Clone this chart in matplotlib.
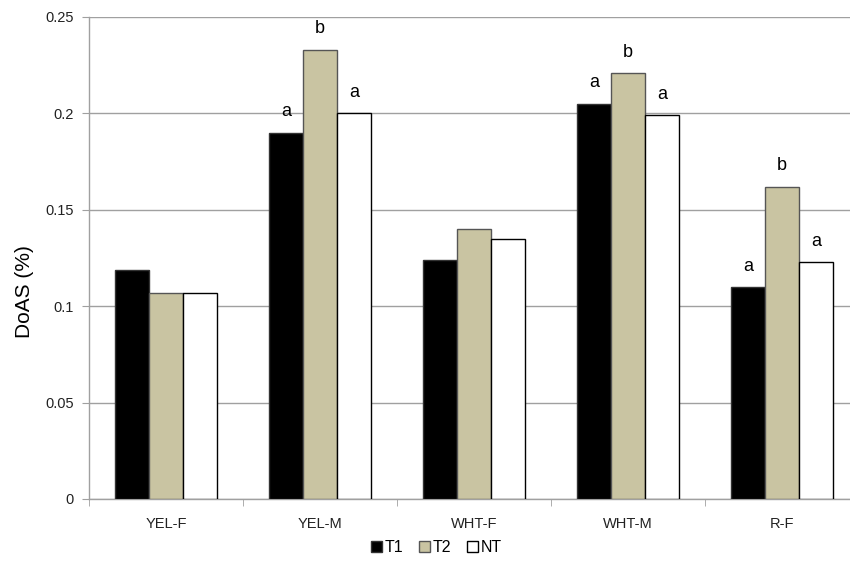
import matplotlib
matplotlib.use("Agg")
import matplotlib.pyplot as plt
import numpy as np
from matplotlib.patches import Patch

plt.rcParams['font.family'] = ['Liberation Sans', 'DejaVu Sans']

# groups and treatments
groups = ["YEL-F", "YEL-M", "WHT-F", "WHT-M", "R-F"]
treatments = ["T1", "T2", "NT"]

t1 = [0.119, 0.190, 0.124, 0.205, 0.110]
t2 = [0.107, 0.233, 0.140, 0.221, 0.162]
nt = [0.107, 0.200, 0.135, 0.199, 0.123]

# significance letters (None = no letter)
t1_sig = [None, "a", None, "a", "a"]
t2_sig = [None, "b", None, "b", "b"]
nt_sig = [None, "a", None, "a", "a"]

colors = ["#000000", "#C9C4A2", "#FFFFFF"]
edges = ["#333333", "#555555", "#000000"]

fig = plt.figure(figsize=(8.5, 5.63), dpi=100)
ax = fig.add_axes([89 / 850, 1 - 499 / 563, 770 / 850, 482 / 563])

x = np.arange(len(groups))
w = 0.222
series = [t1, t2, nt]
sigs = [t1_sig, t2_sig, nt_sig]
for i, (vals, sig) in enumerate(zip(series, sigs)):
    pos = x + (i - 1) * w
    ax.bar(pos, vals, w, color=colors[i], edgecolor=edges[i], linewidth=1.0, zorder=3)
    for p, v, s in zip(pos, vals, sig):
        if s:
            ax.text(p, v + 0.0108, s, ha="center", va="center", fontsize=13, color="#000000")

ax.set_xlim(-0.5, len(groups) - 0.5)
ax.set_ylim(0, 0.25)
ax.set_yticks([0, 0.05, 0.1, 0.15, 0.2, 0.25])
ax.set_yticklabels(["0", "0.05", "0.1", "0.15", "0.2", "0.25"])
ax.grid(axis="y", color="#A0A0A0", linewidth=1.0, zorder=0)

ax.set_xticks(x)
ax.set_xticklabels(groups)
ax.set_xticks(np.arange(-0.5, len(groups)), minor=True)
ax.tick_params(axis="x", which="major", length=0, pad=13, labelsize=10.5, labelcolor="#222222")
ax.tick_params(axis="x", which="minor", length=5, color="#A0A0A0")
ax.tick_params(axis="y", length=5, color="#A0A0A0", pad=6, labelsize=10.5, labelcolor="#222222")

for side in ["top", "right"]:
    ax.spines[side].set_visible(False)
for side in ["left", "bottom"]:
    ax.spines[side].set_color("#A0A0A0")
    ax.spines[side].set_linewidth(1.0)

ax.set_ylabel("DoAS (%)", fontsize=15)
ax.yaxis.set_label_coords(-0.071, 0.43)

handles = [Patch(facecolor=c, edgecolor=e, linewidth=1.0) for c, e in zip(colors, edges)]
fig.legend(handles, treatments, loc="center", bbox_to_anchor=(0.513, 0.027), ncol=3,
           frameon=False, fontsize=11.5, handlelength=0.7, handleheight=0.7,
           handletextpad=0.15, columnspacing=1.0)

fig.savefig("out.png", dpi=100)
